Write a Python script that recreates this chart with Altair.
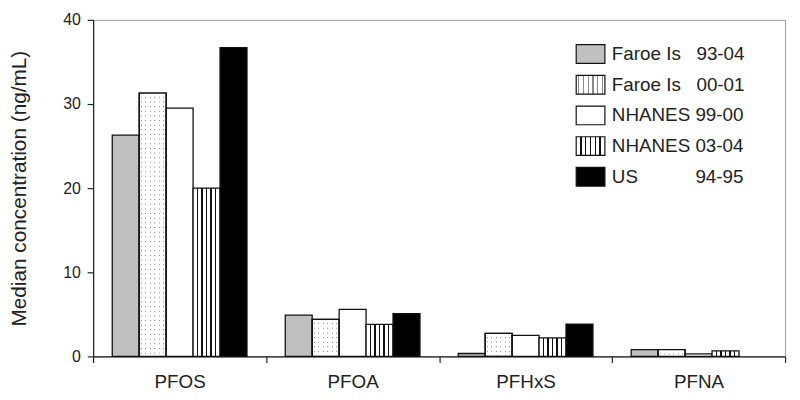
import altair as alt
import pandas as pd

categories = ["PFOS", "PFOA", "PFHxS", "PFNA"]
series = [
    "Faroe Is\u00a0\u00a0\u00a093-04",
    "Faroe Is\u00a0\u00a0\u00a000-01",
    "NHANES 99-00",
    "NHANES 03-04",
    "US" + "\u00a0" * 11 + "94-95",
]
faroe_93_04 = [26.3, 4.9, 0.35, 0.8]
faroe_00_01 = [31.3, 4.4, 2.75, 0.8]
nhanes_99_00 = [29.5, 5.6, 2.5, 0.3]
nhanes_03_04 = [20.0, 3.8, 2.2, 0.65]
us_94_95 = [36.7, 5.1, 3.85, None]

values = [faroe_93_04, faroe_00_01, nhanes_99_00, nhanes_03_04, us_94_95]
rows = []
for s, vals in zip(series, values):
    for c, v in zip(categories, vals):
        if v is not None:
            rows.append({"category": c, "series": s, "value": v})
df = pd.DataFrame(rows)


def stripe_expr(ink, width, centers):
    stops = [(0.0, "white")]
    for cpos in centers:
        a = max(cpos - width / 2, 0.0)
        b = min(cpos + width / 2, 1.0)
        stops += [(a, "white"), (a, ink), (b, ink), (b, "white")]
    stops.append((1.0, "white"))
    st = ",".join("{offset:%.4f,color:'%s'}" % (o, col) for o, col in stops)
    return "{gradient:'linear',x1:0,y1:0,x2:1,y2:0,stops:[" + st + "]}"


dots = stripe_expr("#8a8a8a", 0.04, [(k + 0.5) / 6 for k in range(6)])
vlines = stripe_expr("#111111", 0.05, [k / 6 for k in range(1, 6)])

fills = ["#c0c0c0", alt.ExprRef(dots), "#ffffff", alt.ExprRef(vlines), "#000000"]

FONT = "Liberation Sans"
TXT = "#222222"

x_enc = alt.X(
    "category:N",
    sort=categories,
    scale=alt.Scale(domain=categories, paddingInner=0, paddingOuter=0),
    axis=alt.Axis(
        title=None,
        labelAngle=0,
        tickBand="extent",
        tickSize=6,
        labelPadding=10,
        labelFontSize=19,
        labelFont=FONT,
        labelColor=TXT,
    ),
)
xoff_enc = alt.XOffset(
    "series:N",
    sort=series,
    scale=alt.Scale(domain=series, paddingInner=0, paddingOuter=0.71),
)
y_enc = alt.Y(
    "value:Q",
    scale=alt.Scale(domain=[0, 40], nice=False),
    axis=alt.Axis(
        values=[0, 10, 20, 30, 40],
        grid=False,
        tickSize=6,
        labelPadding=7,
        labelFontSize=16,
        labelFont=FONT,
        labelColor=TXT,
        title="Median concentration (ng/mL)",
        titleFontSize=21,
        titleFont=FONT,
        titleFontWeight="normal",
        titleColor=TXT,
        titlePadding=34,
    ),
)

base = alt.Chart(df)

bars = base.mark_bar(stroke="#111111", strokeWidth=1.3).encode(
    x=x_enc,
    xOffset=xoff_enc,
    y=y_enc,
    fill=alt.Fill(
        "series:N",
        sort=series,
        scale=alt.Scale(domain=series, range=fills),
        legend=alt.Legend(
            title=None,
            orient="none",
            legendX=487,
            legendY=19,
            symbolType="M-1,-0.65H1V0.65H-1Z",
            symbolSize=841,
            symbolStrokeColor="#111111",
            symbolStrokeWidth=1.2,
            labelFontSize=19,
            labelFont=FONT,
            labelColor=TXT,
            labelOffset=6,
            rowPadding=3,
            padding=0,
            labelLimit=300,
        ),
    ),
)

dot_mask = base.transform_filter(
    alt.datum.series == series[1]
).mark_rule(stroke="white", strokeWidth=25, strokeDash=[3.7, 1]).encode(
    x=x_enc,
    xOffset=xoff_enc,
    y=y_enc,
    y2=alt.datum(0),
)

dot_outline = base.transform_filter(
    alt.datum.series == series[1]
).mark_bar(stroke="#111111", strokeWidth=1.3, fill="white", fillOpacity=0).encode(
    x=x_enc,
    xOffset=xoff_enc,
    y=y_enc,
)

chart = alt.layer(bars, dot_mask, dot_outline).properties(
    width=699,
    height=340,
    autosize=alt.AutoSizeParams(type="none"),
    padding={"left": 86, "top": 10, "right": 7, "bottom": 42},
).configure_view(
    stroke="#999999", strokeWidth=1
).configure_axis(
    domainColor="#222222", tickColor="#222222", domainWidth=1.2, tickWidth=1.2
)

chart.save("out.html", embed_options={"renderer": "svg", "actions": False})
